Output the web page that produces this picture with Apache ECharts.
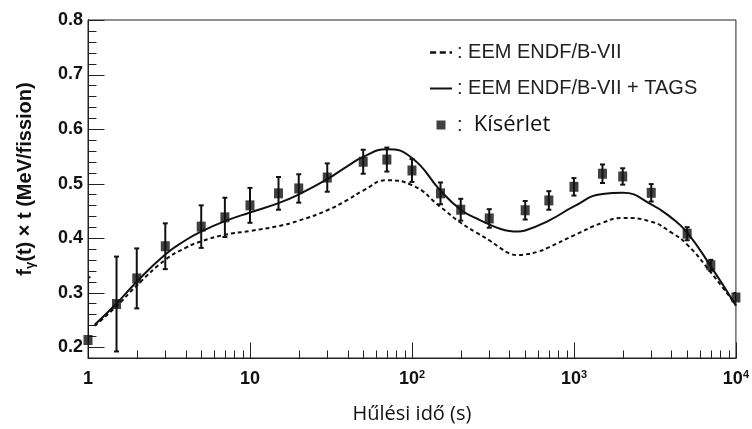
<!DOCTYPE html>
<html>
<head>
<meta charset="utf-8">
<script src="https://cdn.jsdelivr.net/npm/echarts@6/dist/echarts.min.js"></script>
<style>
  html, body { margin: 0; padding: 0; background: #fff; }
  #chart { width: 752px; height: 429px; }
</style>
</head>
<body>
<div id="chart"></div>
<script>
// EEM ENDF/B-VII (dashed)
var eemTime  = [1.1, 1.5, 2, 3, 4, 5, 7, 10, 15, 20, 30, 40, 50, 70, 100, 150, 200, 250, 300, 350, 400, 450, 500, 600, 700, 1000, 1500, 2000, 3000, 4000, 5000, 7000, 10000];
var eemValue = [0.239, 0.275, 0.313, 0.360, 0.382, 0.394, 0.406, 0.413, 0.422, 0.432, 0.451, 0.470, 0.487, 0.506, 0.497, 0.457, 0.428, 0.410, 0.396, 0.382, 0.372, 0.369, 0.370, 0.375, 0.383, 0.405, 0.428, 0.437, 0.430, 0.410, 0.388, 0.337, 0.277];

// EEM ENDF/B-VII + TAGS (solid)
var tagsTime  = [1.1, 1.5, 2, 3, 4, 5, 7, 10, 15, 20, 30, 40, 50, 70, 100, 150, 200, 250, 300, 350, 400, 450, 500, 700, 1000, 1500, 2000, 3000, 4000, 5000, 7000, 10000];
var tagsValue = [0.241, 0.280, 0.320, 0.370, 0.396, 0.412, 0.431, 0.447, 0.464, 0.480, 0.508, 0.532, 0.549, 0.563, 0.547, 0.487, 0.452, 0.436, 0.425, 0.417, 0.413, 0.412, 0.414, 0.432, 0.458, 0.481, 0.483, 0.462, 0.437, 0.410, 0.348, 0.276];

// Kísérlet (measurement)
var expTime  = [1, 1.5, 2, 3, 5, 7, 10, 15, 20, 30, 50, 70, 100, 150, 200, 300, 500, 700, 1000, 1500, 2000, 3000, 5000, 7000, 10000];
var expValue = [0.213, 0.279, 0.326, 0.385, 0.421, 0.438, 0.460, 0.482, 0.491, 0.511, 0.540, 0.544, 0.524, 0.482, 0.452, 0.436, 0.451, 0.469, 0.494, 0.518, 0.513, 0.483, 0.408, 0.350, 0.291];
var expError = [0.115, 0.087, 0.055, 0.042, 0.039, 0.036, 0.032, 0.030, 0.026, 0.026, 0.022, 0.022, 0.021, 0.020, 0.020, 0.017, 0.017, 0.017, 0.016, 0.017, 0.015, 0.016, 0.012, 0.010, 0.008];

// axis ticks
var xMin = 1, xMax = 10000, yMin = 0.18, yMax = 0.8;
var xMajorTicks = [1, 10, 100, 1000, 10000];
var yMajorTicks = [0.2, 0.3, 0.4, 0.5, 0.6, 0.7, 0.8];

var xMinorTicks = [];
for (var i = 0; i < xMajorTicks.length - 1; i++) {
    for (var k = 2; k <= 9; k++) xMinorTicks.push(k * xMajorTicks[i]);
}
var yMinorTicks = [];
for (var i = 0; i < yMajorTicks.length - 1; i++) {
    for (var k = 1; k <= 4; k++) yMinorTicks.push(Math.round((yMajorTicks[i] + 0.02 * k) * 100) / 100);
}

// tick rows: [x, y, direction (0 = up from x axis, 1 = right from y axis), length]
var tickData = [];
xMajorTicks.forEach(function (t) { tickData.push([t, yMin, 0, 16]); });
xMinorTicks.forEach(function (t) { tickData.push([t, yMin, 0, 8]); });
yMajorTicks.forEach(function (v) { tickData.push([xMin, v, 1, 16]); });
yMinorTicks.forEach(function (v) { tickData.push([xMin, v, 1, 8]); });

function zip(a, b) {
    return a.map(function (v, i) { return [v, b[i]]; });
}

var errData = expTime.map(function (t, i) { return [t, expValue[i], expError[i]]; });

// error bars with small caps
function renderErrorBar(params, api) {
    var t = api.value(0), y = api.value(1), e = api.value(2);
    var top = api.coord([t, y + e]);
    var bot = api.coord([t, y - e]);
    var st = { stroke: '#111', lineWidth: 2 };
    return {
        type: 'group',
        children: [
            { type: 'line', shape: { x1: top[0], y1: top[1], x2: bot[0], y2: bot[1] }, style: st },
            { type: 'line', shape: { x1: top[0] - 2.5, y1: top[1], x2: top[0] + 2.5, y2: top[1] }, style: st },
            { type: 'line', shape: { x1: bot[0] - 2.5, y1: bot[1], x2: bot[0] + 2.5, y2: bot[1] }, style: st }
        ]
    };
}

// inward ROOT style ticks, placed through the axis scales
function renderTick(params, api) {
    var p = api.coord([api.value(0), api.value(1)]);
    var len = api.value(3);
    var x = Math.round(p[0]) + 0.5, y = Math.round(p[1]) + 0.5;
    var shape = api.value(2) === 0
        ? { x1: x, y1: y, x2: x, y2: y - len }
        : { x1: x, y1: y, x2: x + len, y2: y };
    return { type: 'line', shape: shape, style: { stroke: '#222', lineWidth: 1 } };
}

var labelFont = 'Liberation Sans';

var myChart = echarts.init(document.getElementById('chart'));

var option = {
    animation: false,
    backgroundColor: '#fff',
    grid: { left: 88, right: 14, top: 20, bottom: 71, show: true, borderColor: '#222', borderWidth: 1 },
    legend: {
        orient: 'vertical',
        left: 425,
        top: 37,
        itemWidth: 22,
        itemHeight: 9,
        itemGap: 15,
        selectedMode: false,
        data: [
            { name: 'EEM ENDF/B-VII', icon: 'path://M0,0H5V2H0Z M8,0H13V2H8Z M16,0H18V2H16Z' },
            { name: 'EEM ENDF/B-VII + TAGS', icon: 'path://M0,0H22V2H0Z' },
            { name: 'Kísérlet', icon: 'path://M0,0H10V10H0Z' }
        ],
        formatter: function (name) {
            if (name === 'Kísérlet') return ':  {k|Kísérlet}';
            return ': ' + name;
        },
        textStyle: {
            fontFamily: labelFont,
            fontSize: 20,
            color: '#222',
            lineHeight: 21,
            rich: { k: { fontFamily: 'Open Sans', fontSize: 22, color: '#111', lineHeight: 21 } }
        }
    },
    xAxis: {
        type: 'log',
        min: xMin,
        max: xMax,
        position: 'bottom',
        name: 'Hűlési idő (s)',
        nameLocation: 'middle',
        nameGap: 46,
        nameTextStyle: { fontFamily: 'Open Sans', fontSize: 20, fontWeight: 500, color: '#111' },
        axisLine: { show: true, lineStyle: { color: '#222' } },
        axisTick: { show: false },
        splitLine: { show: false },
        axisLabel: {
            margin: 11,
            customValues: xMajorTicks,
            formatter: function (v) {
                if (v < 5) return '{b|1}';
                if (v < 50) return '{b|10}';
                return '{b|10}{s|' + Math.round(Math.log10(v)) + '}';
            },
            rich: {
                b: { fontFamily: labelFont, fontWeight: 'bold', fontSize: 18, color: '#111', lineHeight: 20 },
                s: { fontFamily: labelFont, fontWeight: 'bold', fontSize: 11, color: '#111', lineHeight: 20, verticalAlign: 'top', padding: [0, 0, 8, 0] }
            }
        }
    },
    yAxis: {
        type: 'value',
        min: yMin,
        max: yMax,
        position: 'left',
        name: '{f|f}{g|γ}{f|(t) × t (MeV/fission)}',
        nameLocation: 'middle',
        nameGap: 51,
        nameTextStyle: {
            padding: [0, 0, 0, 20],
            rich: {
                f: { fontFamily: labelFont, fontWeight: 'bold', fontSize: 20, color: '#111', lineHeight: 24 },
                g: { fontFamily: labelFont, fontWeight: 'bold', fontSize: 13, color: '#111', lineHeight: 24, verticalAlign: 'bottom' }
            }
        },
        axisLine: { show: true, lineStyle: { color: '#222' } },
        axisTick: { show: false },
        splitLine: { show: false },
        axisLabel: {
            margin: 5,
            customValues: yMajorTicks,
            formatter: function (v) { return v.toFixed(1); },
            fontFamily: labelFont,
            fontWeight: 'bold',
            fontSize: 18,
            color: '#111'
        }
    },
    series: [
        {
            name: 'ticks',
            type: 'custom',
            silent: true,
            clip: false,
            z: 2,
            renderItem: renderTick,
            encode: { x: 0, y: 1 },
            data: tickData
        },
        {
            name: 'EEM ENDF/B-VII',
            type: 'line',
            smooth: 0.5,
            symbol: 'none',
            z: 3,
            color: '#111',
            lineStyle: { color: '#111', width: 2, type: [4, 3] },
            data: zip(eemTime, eemValue)
        },
        {
            name: 'EEM ENDF/B-VII + TAGS',
            type: 'line',
            smooth: 0.5,
            symbol: 'none',
            z: 4,
            color: '#111',
            lineStyle: { color: '#111', width: 2 },
            data: zip(tagsTime, tagsValue)
        },
        {
            name: 'errors',
            type: 'custom',
            clip: true,
            z: 5,
            renderItem: renderErrorBar,
            encode: { x: 0, y: 1 },
            data: errData
        },
        {
            name: 'Kísérlet',
            type: 'scatter',
            symbol: 'rect',
            symbolSize: [9, 10],
            z: 6,
            clip: false,
            color: '#111',
            itemStyle: { color: '#111' },
            data: zip(expTime, expValue)
        }
    ]
};

myChart.setOption(option);
</script>
</body>
</html>
